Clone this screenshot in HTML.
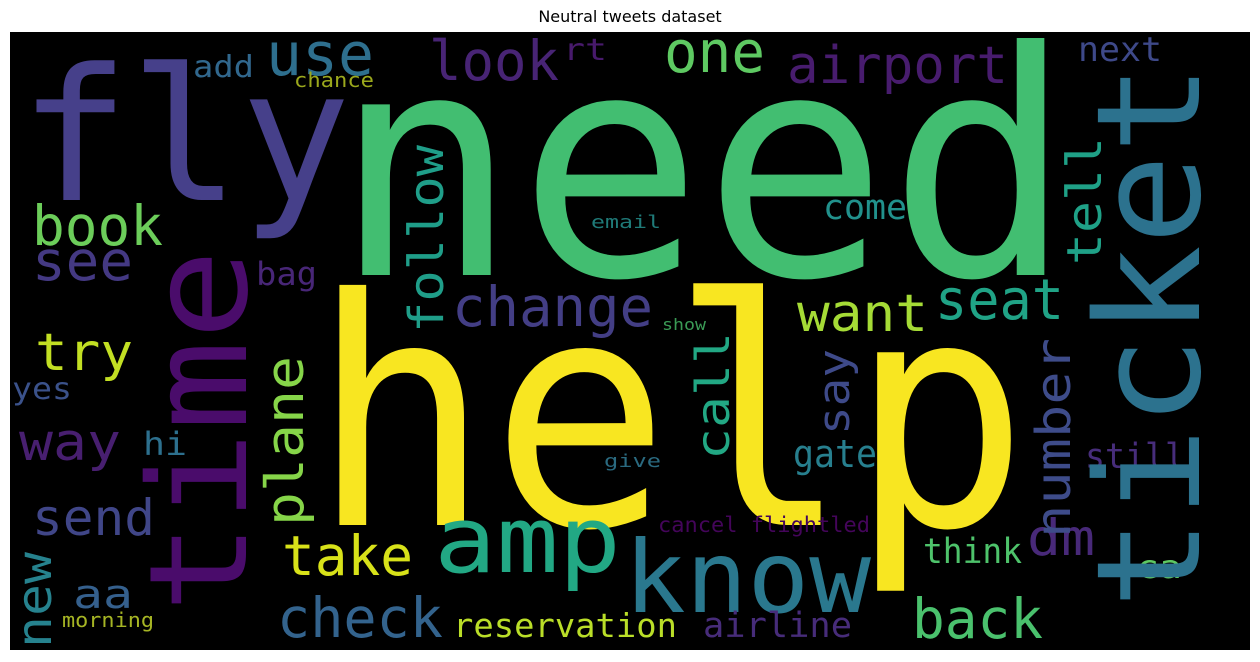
<!DOCTYPE html>
<html><head><meta charset="utf-8"><style>
html,body{margin:0;padding:0;background:#fff;width:1260px;height:662px;overflow:hidden}
svg text.w{font-family:"DejaVu Sans Mono","Liberation Mono",monospace}
</style></head><body>
<svg width="1260" height="662" xmlns="http://www.w3.org/2000/svg">
<text x="630" y="22" text-anchor="middle" font-family="DejaVu Sans, Liberation Sans, sans-serif" font-size="16" fill="#000">Neutral tweets dataset</text>
<rect x="10" y="32" width="1240" height="618" fill="#000"/>
<g>
<text class="w" x="19" y="200" font-size="184" textLength="332" lengthAdjust="spacingAndGlyphs" fill="#46408a">fly</text>
<text class="w" x="333" y="275" font-size="312" textLength="740" lengthAdjust="spacingAndGlyphs" fill="#42be71">need</text>
<text class="w" x="311" y="525" font-size="316" textLength="718" lengthAdjust="spacingAndGlyphs" fill="#f8e621">help</text>
<text class="w" x="434" y="572" font-size="92" textLength="187" lengthAdjust="spacingAndGlyphs" fill="#22a884">amp</text>
<text class="w" x="624" y="612" font-size="100" textLength="247" lengthAdjust="spacingAndGlyphs" fill="#2a788e">know</text>
<text class="w" x="266" y="75" font-size="60" textLength="108" lengthAdjust="spacingAndGlyphs" fill="#2e6f8e">use</text>
<text class="w" x="429" y="80" font-size="55" textLength="130" lengthAdjust="spacingAndGlyphs" fill="#482475">look</text>
<text class="w" x="563" y="60" font-size="30" textLength="44" lengthAdjust="spacingAndGlyphs" fill="#481a6c">rt</text>
<text class="w" x="193" y="77" font-size="30" textLength="61" lengthAdjust="spacingAndGlyphs" fill="#31688e">add</text>
<text class="w" x="294" y="87" font-size="20" textLength="80" lengthAdjust="spacingAndGlyphs" fill="#9ba81c">chance</text>
<text class="w" x="664" y="72" font-size="58" textLength="101" lengthAdjust="spacingAndGlyphs" fill="#5ec962">one</text>
<text class="w" x="787" y="83" font-size="52" textLength="221" lengthAdjust="spacingAndGlyphs" fill="#481c6e">airport</text>
<text class="w" x="1078" y="61" font-size="34" textLength="84" lengthAdjust="spacingAndGlyphs" fill="#3e4989">next</text>
<text class="w" x="32" y="245" font-size="55" textLength="131" lengthAdjust="spacingAndGlyphs" fill="#6ccd5a">book</text>
<text class="w" x="32" y="280" font-size="55" textLength="101" lengthAdjust="spacingAndGlyphs" fill="#443983">see</text>
<text class="w" x="256" y="285" font-size="32" textLength="61" lengthAdjust="spacingAndGlyphs" fill="#482677">bag</text>
<text class="w" x="452" y="326" font-size="55" textLength="201" lengthAdjust="spacingAndGlyphs" fill="#433e85">change</text>
<text class="w" x="591" y="228" font-size="18" textLength="70" lengthAdjust="spacingAndGlyphs" fill="#1f7a78">email</text>
<text class="w" x="823" y="219" font-size="35" textLength="84" lengthAdjust="spacingAndGlyphs" fill="#21918c">come</text>
<text class="w" x="935" y="319" font-size="56" textLength="129" lengthAdjust="spacingAndGlyphs" fill="#20a386">seat</text>
<text class="w" x="797" y="331" font-size="52" textLength="131" lengthAdjust="spacingAndGlyphs" fill="#a5db36">want</text>
<text class="w" x="662" y="330" font-size="16" textLength="44" lengthAdjust="spacingAndGlyphs" fill="#3a9a55">show</text>
<text class="w" x="35" y="370" font-size="52" textLength="98" lengthAdjust="spacingAndGlyphs" fill="#c2df23">try</text>
<text class="w" x="12" y="399" font-size="30" textLength="60" lengthAdjust="spacingAndGlyphs" fill="#3b528b">yes</text>
<text class="w" x="19" y="460" font-size="52" textLength="102" lengthAdjust="spacingAndGlyphs" fill="#481f70">way</text>
<text class="w" x="143" y="455" font-size="32" textLength="44" lengthAdjust="spacingAndGlyphs" fill="#2d708e">hi</text>
<text class="w" x="32" y="535" font-size="50" textLength="123" lengthAdjust="spacingAndGlyphs" fill="#404688">send</text>
<text class="w" x="73" y="608" font-size="40" textLength="60" lengthAdjust="spacingAndGlyphs" fill="#35608d">aa</text>
<text class="w" x="62" y="627" font-size="20" textLength="92" lengthAdjust="spacingAndGlyphs" fill="#a6b524">morning</text>
<text class="w" x="282" y="575" font-size="55" textLength="131" lengthAdjust="spacingAndGlyphs" fill="#d8e219">take</text>
<text class="w" x="277" y="637" font-size="55" textLength="166" lengthAdjust="spacingAndGlyphs" fill="#33638d">check</text>
<text class="w" x="453" y="637" font-size="33" textLength="224" lengthAdjust="spacingAndGlyphs" fill="#bade28">reservation</text>
<text class="w" x="703" y="637" font-size="35" textLength="149" lengthAdjust="spacingAndGlyphs" fill="#472c7a">airline</text>
<text class="w" x="912" y="638" font-size="55" textLength="131" lengthAdjust="spacingAndGlyphs" fill="#4ac16d">back</text>
<text class="w" x="793" y="467" font-size="38" textLength="84" lengthAdjust="spacingAndGlyphs" fill="#277f8e">gate</text>
<text class="w" x="604" y="467" font-size="18" textLength="57" lengthAdjust="spacingAndGlyphs" fill="#2a6a80">give</text>
<text class="w" x="658" y="532" font-size="21" textLength="212" lengthAdjust="spacingAndGlyphs" fill="#44055a">cancel flightled</text>
<text class="w" x="1027" y="555" font-size="50" textLength="68" lengthAdjust="spacingAndGlyphs" fill="#482979">dm</text>
<text class="w" x="923" y="563" font-size="35" textLength="99" lengthAdjust="spacingAndGlyphs" fill="#4ec36b">think</text>
<text class="w" x="1085" y="468" font-size="35" textLength="100" lengthAdjust="spacingAndGlyphs" fill="#472d7b">still</text>
<text class="w" x="1136" y="578" font-size="32" textLength="46" lengthAdjust="spacingAndGlyphs" fill="#5ec962">ca</text>

<text class="w" transform="translate(246,613) rotate(-90)" x="0" y="0" font-size="136" textLength="364" lengthAdjust="spacingAndGlyphs" fill="#4a0c6b">time</text>
<text class="w" transform="translate(1199,609) rotate(-90)" x="0" y="0" font-size="144" textLength="546" lengthAdjust="spacingAndGlyphs" fill="#2c728e">ticket</text>
<text class="w" transform="translate(443,333) rotate(-90)" x="0" y="0" font-size="48" textLength="188" lengthAdjust="spacingAndGlyphs" fill="#1f9e89">follow</text>
<text class="w" transform="translate(1101,265) rotate(-90)" x="0" y="0" font-size="48" textLength="128" lengthAdjust="spacingAndGlyphs" fill="#1fa187">tell</text>
<text class="w" transform="translate(303,526) rotate(-90)" x="0" y="0" font-size="53" textLength="170" lengthAdjust="spacingAndGlyphs" fill="#86d549">plane</text>
<text class="w" transform="translate(51,648) rotate(-90)" x="0" y="0" font-size="48" textLength="96" lengthAdjust="spacingAndGlyphs" fill="#26828e">new</text>
<text class="w" transform="translate(729,460) rotate(-90)" x="0" y="0" font-size="46" textLength="128" lengthAdjust="spacingAndGlyphs" fill="#22a884">call</text>
<text class="w" transform="translate(849,435) rotate(-90)" x="0" y="0" font-size="44" textLength="86" lengthAdjust="spacingAndGlyphs" fill="#3e4a89">say</text>
<text class="w" transform="translate(1070,538) rotate(-90)" x="0" y="0" font-size="48" textLength="200" lengthAdjust="spacingAndGlyphs" fill="#3e4c8a">number</text>
</g>
</svg>
</body></html>
